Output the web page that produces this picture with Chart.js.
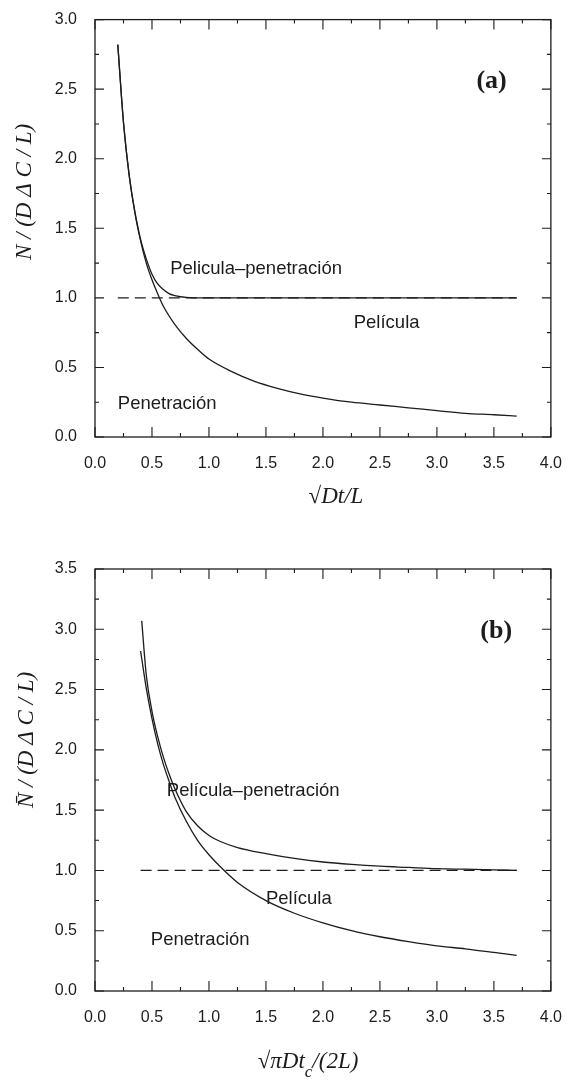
<!DOCTYPE html>
<html><head><meta charset="utf-8">
<script src="https://cdn.jsdelivr.net/npm/chart.js@4.4.1/dist/chart.umd.min.js"></script>
<style>
body{margin:0;background:#fff;width:571px;height:1086px;overflow:hidden;position:relative}
canvas{position:absolute;left:0}
</style>
</head><body>
<canvas id="ca" width="571" height="520" style="top:0"></canvas>
<canvas id="cb" width="571" height="566" style="top:520px"></canvas>
<script>
// ---- tick labels ----
const xTickValues = [0, 0.5, 1, 1.5, 2, 2.5, 3, 3.5, 4];
const yTickValuesA = [0, 0.5, 1, 1.5, 2, 2.5, 3];
const yTickValuesB = [0, 0.5, 1, 1.5, 2, 2.5, 3, 3.5];

// ---- panel (a) ----
const aPenX = [0.2,0.25,0.3,0.35,0.4,0.45,0.5,0.55,0.6,0.7,0.8,0.9,1.0,1.2,1.4,1.6,1.8,2.0,2.25,2.5,2.75,3.0,3.25,3.5,3.7];
const aPenY = [2.82,2.26,1.88,1.61,1.41,1.25,1.13,1.03,0.94,0.81,0.71,0.63,0.56,0.47,0.40,0.35,0.31,0.28,0.25,0.23,0.21,0.19,0.17,0.16,0.15];
const aFilmPenX = [0.2,0.25,0.3,0.35,0.4,0.45,0.5,0.55,0.6,0.65,0.7,0.75,0.8,0.9,1.0,1.5,2.0,2.5,3.0,3.5,3.7];
const aFilmPenY = [2.82,2.26,1.88,1.62,1.42,1.28,1.17,1.10,1.06,1.03,1.016,1.008,1.004,1.0,1.0,1.0,1.0,1.0,1.0,1.0,1.0];
const aFilmX = [0.2,3.7];
const aFilmY = [1.0,1.0];

// ---- panel (b) ----
const bPenX = [0.4,0.45,0.5,0.55,0.6,0.65,0.7,0.8,0.9,1.0,1.1,1.25,1.5,1.75,2.0,2.25,2.5,2.75,3.0,3.25,3.5,3.7];
const bPenY = [2.82,2.51,2.26,2.05,1.88,1.74,1.61,1.41,1.25,1.13,1.03,0.90,0.75,0.645,0.565,0.50,0.45,0.41,0.375,0.35,0.32,0.295];
const bFilmPenX = [0.41,0.45,0.5,0.55,0.6,0.65,0.7,0.8,0.9,1.0,1.1,1.25,1.5,1.75,2.0,2.25,2.5,2.75,3.0,3.25,3.5,3.7];
const bFilmPenY = [3.07,2.62,2.32,2.11,1.94,1.80,1.68,1.49,1.37,1.29,1.24,1.19,1.14,1.10,1.07,1.05,1.035,1.025,1.015,1.01,1.005,1.0];
const bFilmX = [0.4,3.7];
const bFilmY = [1.0,1.0];

const pts = (xs, ys) => xs.map((x, i) => ({x: x, y: ys[i]}));
const INK = '#1c1c1c';

const frameTicks = {
  id: 'frameTicks',
  afterDatasetsDraw(chart) {
    const {ctx, chartArea: a, scales} = chart;
    const xs = scales.x, ys = scales.y;
    ctx.save();
    ctx.strokeStyle = INK;
    ctx.lineWidth = 1.3;
    ctx.strokeRect(a.left, a.top, a.right - a.left, a.bottom - a.top);
    ctx.lineWidth = 1.1;
    const xv = xs.ticks.map(t => t.value);
    const yv = ys.ticks.map(t => t.value);
    const drawX = (v, len) => {
      const p = xs.getPixelForValue(v);
      ctx.beginPath();
      ctx.moveTo(p, a.bottom); ctx.lineTo(p, a.bottom - len);
      ctx.moveTo(p, a.top); ctx.lineTo(p, a.top + len);
      ctx.stroke();
    };
    const drawY = (v, len) => {
      const p = ys.getPixelForValue(v);
      ctx.beginPath();
      ctx.moveTo(a.left, p); ctx.lineTo(a.left + len, p);
      ctx.moveTo(a.right, p); ctx.lineTo(a.right - len, p);
      ctx.stroke();
    };
    xv.forEach((v, i) => { drawX(v, 10); if (i < xv.length - 1) drawX((v + xv[i + 1]) / 2, 4); });
    yv.forEach((v, i) => { drawY(v, 9); if (i < yv.length - 1) drawY((v + yv[i + 1]) / 2, 4); });
    ctx.restore();
  },
  afterDraw(chart, args, opts) {
    const {ctx, scales} = chart;
    const xs = scales.x, ys = scales.y;
    ctx.save();
    ctx.fillStyle = INK;
    ctx.textBaseline = 'middle';
    (opts.labels || []).forEach(l => {
      ctx.font = l.font;
      ctx.textAlign = l.align || 'left';
      ctx.fillText(l.text, xs.getPixelForValue(l.x), ys.getPixelForValue(l.y));
    });
    const xt = opts.xTitle;
    if (xt) {
      let total = 0;
      xt.parts.forEach(p => { ctx.font = p.font; total += ctx.measureText(p.t).width; });
      let cx = xt.cx - total / 2;
      ctx.textAlign = 'left';
      ctx.textBaseline = 'alphabetic';
      xt.parts.forEach(p => {
        ctx.font = p.font;
        ctx.fillText(p.t, cx, xt.y + (p.dy || 0));
        cx += ctx.measureText(p.t).width;
      });
    }
    const yt = opts.yTitle;
    if (yt) {
      ctx.translate(yt.cx, yt.cy);
      ctx.rotate(-Math.PI / 2);
      ctx.font = yt.font;
      ctx.textAlign = 'center';
      ctx.textBaseline = 'middle';
      ctx.fillText(yt.text, 0, 0);
    }
    ctx.restore();
  }
};

function makeChart(id, datasets, yTicks, yMax, padTop, xAxisH, plug) {
  return new Chart(document.getElementById(id), {
    type: 'line',
    data: {datasets: datasets},
    options: {
      responsive: false,
      animation: false,
      devicePixelRatio: 1,
      layout: {padding: {top: padTop, right: 16, left: 0, bottom: 0}},
      plugins: {legend: {display: false}, tooltip: {enabled: false}, frameTicks: plug},
      elements: {point: {radius: 0}, line: {borderWidth: 1.3, borderColor: INK, cubicInterpolationMode: 'monotone'}},
      scales: {
        x: {
          type: 'linear', min: 0, max: 4,
          afterBuildTicks: s => { s.ticks = xTickValues.map(v => ({value: v})); },
          afterFit: s => { s.height = xAxisH; },
          grid: {display: false}, border: {display: false},
          ticks: {color: INK, font: {family: 'Liberation Sans', size: 16}, padding: 9,
                  callback: v => Number(v).toFixed(1), maxRotation: 0}
        },
        y: {
          type: 'linear', min: 0, max: yMax,
          afterBuildTicks: s => { s.ticks = yTicks.map(v => ({value: v})); },
          afterFit: s => { s.width = 95; },
          grid: {display: false}, border: {display: false},
          ticks: {color: INK, font: {family: 'Liberation Sans', size: 16}, padding: 10,
                  callback: v => Number(v).toFixed(1)}
        }
      }
    },
    plugins: [frameTicks]
  });
}

const labelFont = '18.5px "Liberation Sans"';
const serifI = 'italic 23px "Liberation Serif"';
const serifU = '23px "Liberation Serif"';

makeChart('ca', [
  {data: pts(aPenX, aPenY)},
  {data: pts(aFilmPenX, aFilmPenY)},
  {data: pts(aFilmX, aFilmY), borderDash: [11, 6], cubicInterpolationMode: 'default'}
], yTickValuesA, 3, 16, 83, {
  labels: [
    {text: 'Pelicula\u2013penetración', x: 0.66, y: 1.21, font: labelFont},
    {text: 'Película', x: 2.27, y: 0.82, font: labelFont},
    {text: 'Penetración', x: 0.2, y: 0.24, font: labelFont},
    {text: '(a)', x: 3.48, y: 2.56, font: 'bold 26px "Liberation Serif"', align: 'center'}
  ],
  xTitle: {cx: 336, y: 503, parts: [
    {t: '\u221A', font: serifU}, {t: 'Dt/L', font: serifI}
  ]},
  yTitle: {cx: 25, cy: 192, text: 'N / (D \u0394 C / L)', font: serifI}
});

makeChart('cb', [
  {data: pts(bPenX, bPenY)},
  {data: pts(bFilmPenX, bFilmPenY)},
  {data: pts(bFilmX, bFilmY), borderDash: [11, 6], cubicInterpolationMode: 'default'}
], yTickValuesB, 3.5, 49, 95, {
  labels: [
    {text: 'Película\u2013penetración', x: 0.63, y: 1.66, font: labelFont},
    {text: 'Película', x: 1.5, y: 0.76, font: labelFont},
    {text: 'Penetración', x: 0.49, y: 0.42, font: labelFont},
    {text: '(b)', x: 3.52, y: 2.98, font: 'bold 26px "Liberation Serif"', align: 'center'}
  ],
  xTitle: {cx: 308, y: 548, parts: [
    {t: '\u221A', font: serifU}, {t: '\u03C0Dt', font: serifI},
    {t: 'c', font: 'italic 17px "Liberation Serif"', dy: 9},
    {t: '/(2L)', font: serifI}
  ]},
  yTitle: {cx: 27, cy: 220, text: 'N\u0304 / (D \u0394 C / L)', font: serifI}
});
</script>
</body></html>
